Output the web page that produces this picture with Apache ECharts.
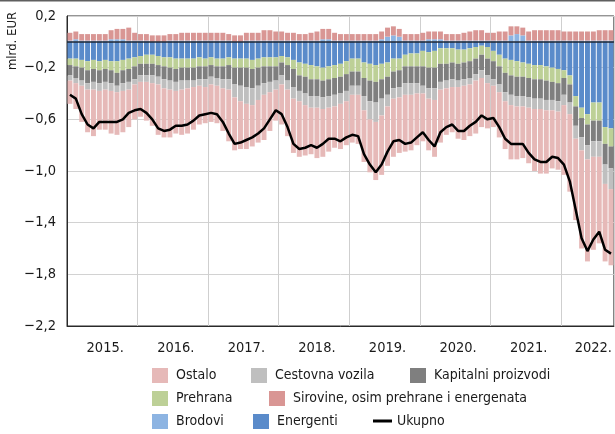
<!DOCTYPE html>
<html>
<head>
<meta charset="utf-8">
<script src="https://cdn.jsdelivr.net/npm/echarts@6/dist/echarts.min.js"></script>
<style>
  html, body { margin: 0; padding: 0; background: #fff; }
  #chart { width: 615px; height: 434px; }
</style>
</head>
<body>
<div id="chart"></div>
<script>
// years on the axis and how many months of each are shown
const years = ["2015.", "2016.", "2017.", "2018.", "2019.", "2020.", "2021.", "2022."];
const monthsPerYear = [12, 12, 12, 12, 12, 12, 12, 9];

// mlrd. EUR, monthly
const energenti = [
  -0.13,-0.13,-0.14,-0.15,-0.14,-0.15,-0.14,-0.15,-0.15,-0.14,-0.13,-0.12,
  -0.11,-0.10,-0.10,-0.11,-0.12,-0.12,-0.13,-0.13,-0.13,-0.13,-0.12,-0.13,
  -0.12,-0.13,-0.13,-0.12,-0.13,-0.13,-0.13,-0.14,-0.13,-0.12,-0.12,-0.12,
  -0.11,-0.12,-0.14,-0.16,-0.17,-0.18,-0.19,-0.20,-0.19,-0.18,-0.17,-0.15,
  -0.13,-0.13,-0.16,-0.17,-0.18,-0.17,-0.16,-0.13,-0.13,-0.10,-0.09,-0.09,
  -0.07,-0.08,-0.07,-0.05,-0.05,-0.05,-0.06,-0.06,-0.05,-0.04,-0.03,-0.04,
  -0.07,-0.10,-0.13,-0.14,-0.15,-0.16,-0.17,-0.18,-0.18,-0.19,-0.20,-0.21,
  -0.22,-0.26,-0.42,-0.51,-0.56,-0.47,-0.47,-0.66,-0.67
];
const brodovi = [
  0.01,0.02,0.01,0.01,0.01,0.01,0.01,0.02,0.02,0.02,0.01,0.01,
  0.01,0.01,0.00,0.00,0.00,0.01,0.01,0.01,0.01,0.01,0.01,0.01,
  0.01,0.01,0.01,0.01,0.00,0.00,0.01,0.01,0.01,0.01,0.01,0.01,
  0.01,0.01,0.01,0.01,0.01,0.01,0.01,0.02,0.02,0.01,0.01,0.01,
  0.01,0.01,0.01,0.01,0.01,0.02,0.04,0.05,0.04,0.01,0.01,0.01,
  0.01,0.02,0.02,0.02,0.01,0.01,0.01,0.01,0.01,0.01,0.01,0.01,
  0.01,0.01,0.01,0.05,0.06,0.05,0.01,0.01,0.01,0.01,0.01,0.01,
  0.01,0.01,0.01,0.01,0.01,0.01,0.01,0.01,0.01
];
const sirovine = [
  0.06,0.06,0.05,0.05,0.05,0.05,0.05,0.07,0.08,0.08,0.10,0.06,
  0.05,0.05,0.05,0.05,0.05,0.05,0.05,0.06,0.06,0.06,0.06,0.06,
  0.06,0.06,0.06,0.05,0.05,0.05,0.06,0.06,0.06,0.08,0.08,0.07,
  0.07,0.06,0.06,0.05,0.05,0.06,0.07,0.08,0.08,0.06,0.05,0.05,
  0.05,0.05,0.05,0.05,0.05,0.06,0.07,0.07,0.06,0.05,0.05,0.05,
  0.06,0.06,0.06,0.06,0.05,0.05,0.05,0.06,0.07,0.08,0.08,0.06,
  0.06,0.07,0.07,0.07,0.06,0.06,0.07,0.08,0.08,0.08,0.08,0.08,
  0.07,0.07,0.07,0.07,0.07,0.07,0.08,0.08,0.08
];
const prehrana = [
  -0.05,-0.06,-0.06,-0.07,-0.07,-0.07,-0.07,-0.07,-0.09,-0.08,-0.08,-0.07,
  -0.06,-0.07,-0.07,-0.07,-0.07,-0.08,-0.08,-0.07,-0.07,-0.07,-0.07,-0.06,
  -0.06,-0.06,-0.06,-0.06,-0.07,-0.07,-0.07,-0.07,-0.07,-0.07,-0.07,-0.07,
  -0.05,-0.06,-0.07,-0.10,-0.10,-0.11,-0.10,-0.10,-0.10,-0.10,-0.10,-0.10,
  -0.10,-0.10,-0.12,-0.13,-0.13,-0.12,-0.11,-0.10,-0.09,-0.09,-0.10,-0.10,
  -0.12,-0.12,-0.13,-0.12,-0.12,-0.11,-0.11,-0.10,-0.10,-0.09,-0.07,-0.09,
  -0.08,-0.09,-0.11,-0.12,-0.12,-0.11,-0.11,-0.11,-0.11,-0.11,-0.11,-0.11,
  -0.06,-0.07,-0.08,-0.08,-0.08,-0.14,-0.14,-0.13,-0.14
];
const kapitalni = [
  -0.08,-0.09,-0.10,-0.10,-0.10,-0.10,-0.10,-0.10,-0.10,-0.10,-0.10,-0.10,
  -0.09,-0.09,-0.09,-0.09,-0.10,-0.10,-0.10,-0.10,-0.10,-0.10,-0.10,-0.10,
  -0.09,-0.09,-0.10,-0.11,-0.13,-0.14,-0.15,-0.15,-0.14,-0.13,-0.12,-0.11,
  -0.10,-0.12,-0.14,-0.12,-0.13,-0.13,-0.13,-0.13,-0.13,-0.13,-0.13,-0.13,
  -0.11,-0.11,-0.14,-0.16,-0.16,-0.15,-0.14,-0.13,-0.13,-0.13,-0.13,-0.13,
  -0.15,-0.16,-0.16,-0.14,-0.13,-0.13,-0.13,-0.13,-0.13,-0.12,-0.12,-0.13,
  -0.14,-0.14,-0.15,-0.15,-0.15,-0.15,-0.15,-0.15,-0.15,-0.15,-0.14,-0.14,
  -0.13,-0.14,-0.15,-0.15,-0.16,-0.16,-0.16,-0.16,-0.17
];
const cestovna = [
  -0.04,-0.04,-0.04,-0.05,-0.06,-0.06,-0.06,-0.06,-0.05,-0.06,-0.06,-0.04,
  -0.05,-0.05,-0.06,-0.06,-0.07,-0.07,-0.07,-0.07,-0.06,-0.05,-0.05,-0.06,
  -0.06,-0.06,-0.07,-0.08,-0.10,-0.12,-0.13,-0.13,-0.11,-0.09,-0.08,-0.07,
  -0.07,-0.07,-0.09,-0.08,-0.09,-0.09,-0.09,-0.09,-0.09,-0.09,-0.08,-0.08,
  -0.07,-0.07,-0.11,-0.14,-0.15,-0.13,-0.09,-0.08,-0.08,-0.09,-0.09,-0.08,
  -0.06,-0.08,-0.09,-0.06,-0.06,-0.06,-0.05,-0.05,-0.05,-0.05,-0.06,-0.06,
  -0.05,-0.06,-0.07,-0.08,-0.08,-0.08,-0.08,-0.08,-0.08,-0.08,-0.08,-0.08,
  -0.08,-0.09,-0.10,-0.10,-0.11,-0.12,-0.12,-0.15,-0.16
];
const ostalo = [
  -0.18,-0.20,-0.28,-0.33,-0.36,-0.30,-0.31,-0.33,-0.33,-0.32,-0.29,-0.27,
  -0.27,-0.30,-0.33,-0.39,-0.38,-0.37,-0.33,-0.35,-0.35,-0.33,-0.30,-0.28,
  -0.29,-0.29,-0.33,-0.40,-0.41,-0.37,-0.35,-0.32,-0.33,-0.35,-0.30,-0.24,
  -0.31,-0.36,-0.42,-0.43,-0.39,-0.36,-0.39,-0.37,-0.34,-0.32,-0.35,-0.34,
  -0.37,-0.38,-0.40,-0.41,-0.45,-0.46,-0.46,-0.45,-0.43,-0.44,-0.43,-0.40,
  -0.37,-0.40,-0.44,-0.41,-0.36,-0.35,-0.40,-0.42,-0.40,-0.41,-0.38,-0.35,
  -0.32,-0.35,-0.37,-0.42,-0.41,-0.40,-0.43,-0.48,-0.50,-0.49,-0.45,-0.45,
  -0.54,-0.60,-0.63,-0.76,-0.79,-0.72,-0.67,-0.60,-0.59
];
const ukupno = [
  -0.41,-0.44,-0.56,-0.64,-0.67,-0.62,-0.62,-0.62,-0.62,-0.60,-0.55,-0.53,
  -0.52,-0.55,-0.60,-0.67,-0.69,-0.68,-0.65,-0.65,-0.64,-0.61,-0.57,-0.56,
  -0.55,-0.56,-0.62,-0.71,-0.79,-0.78,-0.76,-0.74,-0.71,-0.67,-0.60,-0.53,
  -0.56,-0.66,-0.79,-0.83,-0.82,-0.80,-0.82,-0.79,-0.75,-0.75,-0.77,-0.74,
  -0.72,-0.73,-0.87,-0.95,-1.01,-0.95,-0.85,-0.77,-0.76,-0.79,-0.78,-0.74,
  -0.70,-0.76,-0.81,-0.70,-0.66,-0.64,-0.69,-0.69,-0.65,-0.62,-0.57,-0.60,
  -0.59,-0.66,-0.75,-0.79,-0.79,-0.79,-0.86,-0.91,-0.93,-0.93,-0.89,-0.90,
  -0.95,-1.08,-1.30,-1.52,-1.62,-1.53,-1.47,-1.61,-1.64
];

// one category per month, labelled by its year
const categories = [];
years.forEach((y, i) => {
  for (let m = 0; m < monthsPerYear[i]; m++) categories.push(y);
});

const FONT = "'Liberation Sans Narrow', 'DejaVu Sans Condensed', sans-serif";
const TXT = "#1a1a1a";

const colors = {
  "Ostalo": "#e6b9b8",
  "Cestovna vozila": "#bfbfbf",
  "Kapitalni proizvodi": "#7f7f7f",
  "Prehrana": "#bdd097",
  "Sirovine, osim prehrane i energenata": "#d99694",
  "Brodovi": "#8db4e2",
  "Energenti": "#5a8bca",
  "Ukupno": "#000000"
};

function bar(name, data) {
  return {
    name: name,
    type: "bar",
    stack: "total",
    data: data,
    barCategoryGap: "16%",
    itemStyle: { color: colors[name] }
  };
}

const fmt = v => v.toFixed(1).replace(".", ",").replace("-", "\u2212");

// legend items placed one by one like the original
const legendItems = [
  ["Ostalo", 152, 368], ["Cestovna vozila", 251, 368], ["Kapitalni proizvodi", 410, 368],
  ["Prehrana", 152, 391], ["Sirovine, osim prehrane i energenata", 269, 391],
  ["Brodovi", 152, 414], ["Energenti", 253, 414], ["Ukupno", 373, 414]
];
const legends = legendItems.map(([name, left, top]) => {
  const isLine = name === "Ukupno";
  return {
    left: left,
    top: top,
    padding: 0,
    selectedMode: false,
    itemWidth: isLine ? 19 : 16,
    itemHeight: isLine ? 3 : 15,
    data: [{ name: name, icon: "rect" }],
    textStyle: {
      fontFamily: FONT, fontSize: 14, color: TXT,
      padding: isLine ? 0 : [0, 0, 0, 3]
    }
  };
});

const chart = echarts.init(document.getElementById("chart"), null, { renderer: "canvas" });

chart.setOption({
  animation: false,
  legend: legends,
  grid: {
    left: 67, top: 16, right: -1, bottom: 108,
    show: true, borderColor: "#2a2a2a", borderWidth: 1, backgroundColor: "transparent"
  },
  graphic: [
    { type: "rect", shape: { x: 0, y: 0, width: 615, height: 1.5 }, style: { fill: "#5f5f5f" } },
    {
      type: "text", x: 13, y: 41, rotation: Math.PI / 2,
      style: {
        text: "mlrd. EUR", font: "13px " + FONT, fill: TXT,
        textAlign: "center", textVerticalAlign: "middle"
      }
    }
  ],
  xAxis: {
    type: "category",
    data: categories,
    boundaryGap: true,
    axisLine: { show: true, onZero: false, lineStyle: { color: "#2a2a2a", width: 1 } },
    axisTick: { show: false },
    axisLabel: {
      fontFamily: FONT, fontSize: 14.5, color: TXT, margin: 15,
      interval: (i) => (i < 84 ? i % 12 === 6 : i === 89),
      hideOverlap: false
    },
    splitLine: {
      show: true,
      interval: (i) => i % 12 === 0,
      lineStyle: { color: "#cfcfcf", width: 1 }
    }
  },
  yAxis: {
    type: "value",
    min: -2.2,
    max: 0.2,
    interval: 0.4,
    axisLine: { show: true, lineStyle: { color: "#2a2a2a", width: 1 } },
    axisTick: { show: false },
    axisLabel: { fontFamily: FONT, fontSize: 14.5, color: TXT, margin: 11, formatter: fmt },
    splitLine: { show: true, lineStyle: { color: "#d2d2d2", width: 1 } }
  },
  series: [
    Object.assign(bar("Energenti", energenti), {
      markLine: {
        silent: true, symbol: ["none", "none"], label: { show: false },
        lineStyle: { color: "#1d2633", width: 1.5, type: "solid" },
        data: [{ yAxis: 0 }]
      }
    }),
    bar("Brodovi", brodovi),
    bar("Sirovine, osim prehrane i energenata", sirovine),
    bar("Prehrana", prehrana),
    bar("Kapitalni proizvodi", kapitalni),
    bar("Cestovna vozila", cestovna),
    bar("Ostalo", ostalo),
    {
      name: "Ukupno",
      type: "line",
      data: ukupno,
      symbol: "none",
      lineStyle: { color: "#000", width: 2.5 },
      itemStyle: { color: "#000" },
      z: 5
    }
  ]
});
</script>
</body>
</html>
